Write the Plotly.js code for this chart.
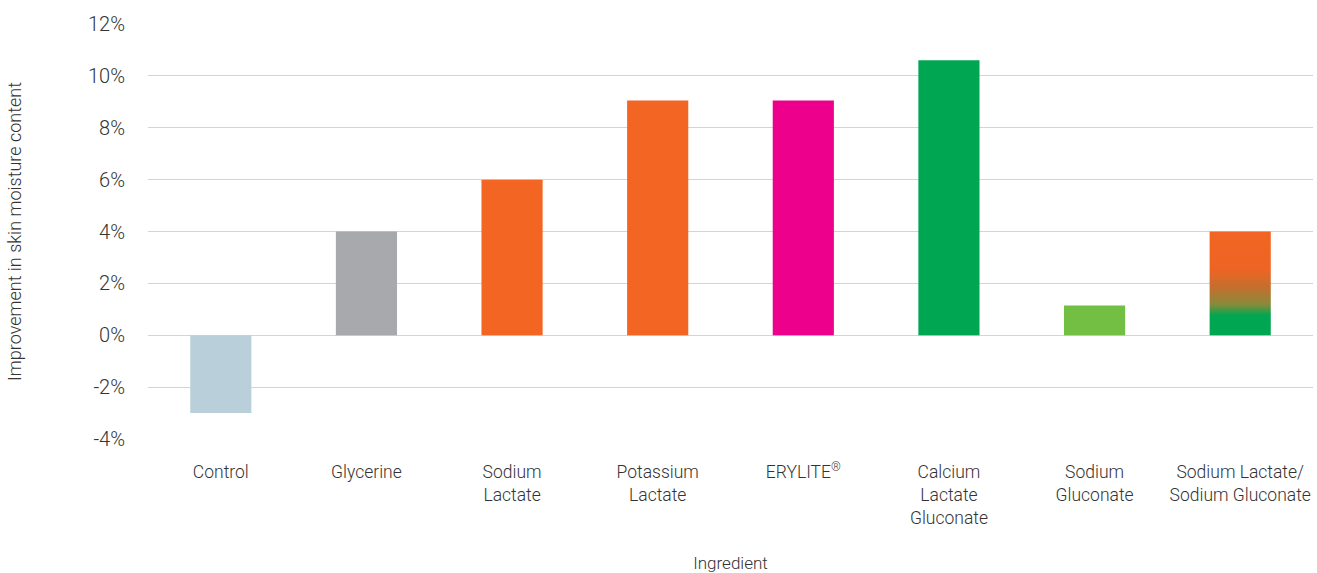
<!DOCTYPE html>
<html>
<head>
<meta charset="utf-8">
<script src="https://cdn.plot.ly/plotly-3.0.1.min.js"></script>
<style>
html,body{margin:0;padding:0;background:#fff;}
#chart{width:1317px;height:573px;}
</style>
</head>
<body>
<div id="chart"></div>
<script>
const categories = ["Control","Glycerine","Sodium<br>Lactate","Potassium<br>Lactate","ERYLITE<sup>®</sup>","Calcium<br>Lactate<br>Gluconate","Sodium<br>Gluconate","Sodium Lactate/<br>Sodium Gluconate"];
const values = [-3.0, 4.0, 6.0, 9.05, 9.05, 10.6, 1.15, 4.0];
const barColors = ["#B9D0DB","#A7A9AC","#F26522","#F26522","#EC008C","#00A651","#72BF44","#F26522"];
const yTickVals = [-4,-2,0,2,4,6,8,10,12];
const yTickText = ["-4%","-2%","0%","2%","4%","6%","8%","10%","12%"];

const fam = "Roboto, Liberation Sans, Arial, sans-serif";
const txtColor = "#333333";

const trace = {
  type: "bar",
  x: categories,
  y: values,
  marker: {color: barColors, line: {width: 0}},
  hoverinfo: "none"
};

const layout = {
  width: 1317, height: 573,
  margin: {l: 148, r: 4, t: 24, b: 134},
  paper_bgcolor: "#fff", plot_bgcolor: "#fff",
  bargap: 0.58,
  showlegend: false,
  font: {family: fam, color: txtColor, weight: 300},
  xaxis: {
    type: "category",
    showgrid: false, zeroline: false, showline: false,
    ticks: "outside", ticklen: 17, tickcolor: "rgba(0,0,0,0)",
    tickfont: {family: fam, size: 17.5, color: txtColor, weight: 300},
    title: {text: "Ingredient", font: {family: fam, size: 17, color: txtColor, weight: 300}, standoff: 33}
  },
  yaxis: {
    range: [-4, 12],
    tickvals: yTickVals, ticktext: yTickText,
    showgrid: true, gridcolor: "#C8D7E0", gridwidth: 1,
    zeroline: false, showline: false,
    ticks: "outside", ticklen: 18, tickcolor: "rgba(0,0,0,0)",
    tickfont: {family: fam, size: 20, color: txtColor, weight: 300},
    title: {text: "Improvement in skin moisture content", font: {family: fam, size: 18, color: txtColor, weight: 300}, standoff: 61}
  }
};

Plotly.newPlot("chart", [trace], layout, {displayModeBar: false, staticPlot: true}).then(function(gd){
  const svg = gd.querySelector(".main-svg");
  let defs = svg.querySelector("defs");
  const ns = "http://www.w3.org/2000/svg";
  if (!defs) { defs = document.createElementNS(ns,"defs"); svg.insertBefore(defs, svg.firstChild); }
  const lg = document.createElementNS(ns, "linearGradient");
  lg.setAttribute("id", "mixGrad");
  lg.setAttribute("x1","0"); lg.setAttribute("y1","0"); lg.setAttribute("x2","0"); lg.setAttribute("y2","1");
  [["0","#F26522"],["0.37","#EE6424"],["0.55","#C0702E"],["0.70","#8A8A3A"],["0.81","#00A651"],["1","#00A651"]].forEach(function(s){
    const st = document.createElementNS(ns, "stop");
    st.setAttribute("offset", s[0]); st.setAttribute("stop-color", s[1]);
    lg.appendChild(st);
  });
  defs.appendChild(lg);
  const pts = gd.querySelectorAll(".trace.bars .point path");
  const last = pts[pts.length - 1];
  if (last) last.style.fill = "url(#mixGrad)";
});
</script>
</body>
</html>
